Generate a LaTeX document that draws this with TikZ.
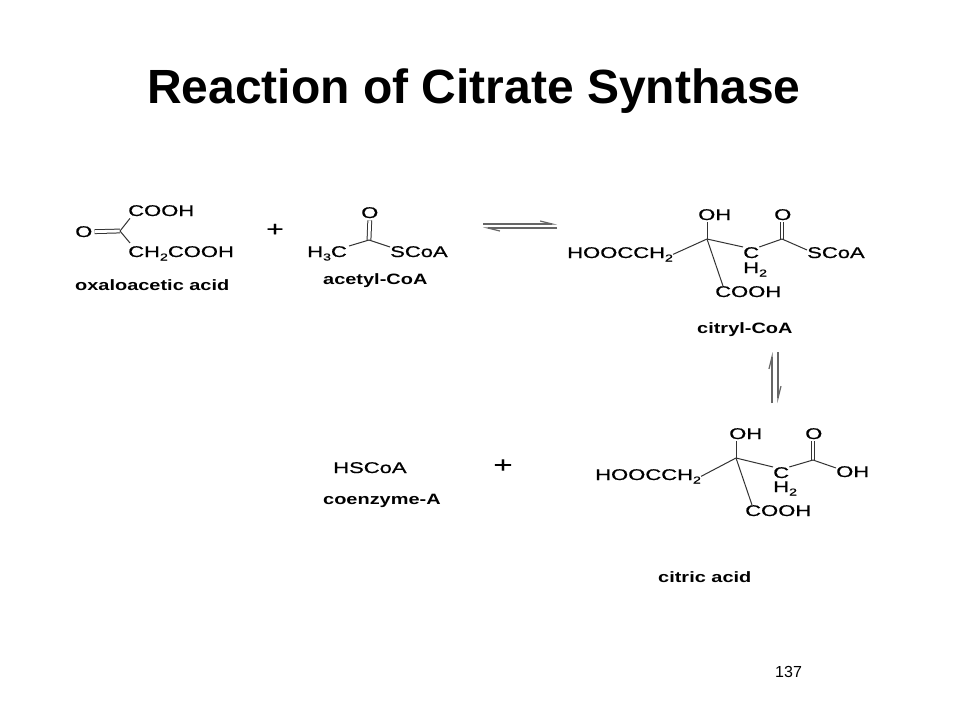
\documentclass[tikz,border=0pt]{standalone}
\usepackage{fontspec}
\setmainfont{Liberation Sans}
\newfontfamily\chemfont[FakeStretch=1.42, FakeBold=0.6]{Liberation Sans}
\newfontfamily\namefont[FakeStretch=1.33]{Liberation Sans}
\usepackage{tikz}
\usetikzlibrary{arrows.meta}
\newcommand{\chsub}[1]{\raisebox{-3.5pt}{\fontsize{10}{10}\selectfont #1}}
\tikzstyle{atom} = [inner sep=0pt, anchor=base west, font=\chemfont\fontsize{15.5}{15.5}\selectfont]
\tikzstyle{molname} = [inner sep=0pt, anchor=base west, font=\namefont\bfseries\fontsize{15}{15}\selectfont]
\tikzstyle{plus} = [inner sep=0pt, font=\chemfont\fontsize{21}{21}\selectfont]
\tikzstyle{bond} = [line width=1pt, black!80]
\tikzstyle{dbond} = [bond, double, double distance=2.8pt]
\tikzstyle{eqarrow} = [line width=1.2pt, black!60, -{Straight Barb[harpoon, length=12pt, width=6pt]}]

\begin{document}
\begin{tikzpicture}[x=1pt, y=-1pt]
	\useasboundingbox[fill=white] (0,0) rectangle (960,720);
	\node[anchor=base west, inner sep=0pt, font=\bfseries\fontsize{48}{48}\selectfont] (title) at (147,103) {Reaction of Citrate Synthase};
	% oxaloacetic acid
	\coordinate (oxC) at (120,231);
	\node[atom] (oxO) at (75,237) {O};
	\node[atom] (oxTop) at (128,216) {COOH};
	\node[atom] (oxBot) at (128,257) {CH\chsub{2}COOH};
	\node[molname] (oxName) at (75,290) {oxaloacetic acid};
	\draw[dbond] ([xshift=2pt]oxO.east) -- (oxC);
	\draw[bond] (oxC) -- ([xshift=2pt,yshift=-2pt]oxTop.south west);
	\draw[bond] (oxC) -- ([xshift=2pt,yshift=3pt]oxBot.north west);
	\node[plus] (plusA) at (275,230) {+};
	% acetyl-CoA
	\coordinate (acC) at (369,240);
	\node[atom] (acO) at (361,218) {O};
	\node[atom] (acMe) at (307,257) {H\chsub{3}C};
	\node[atom] (acS) at (390,257) {SCoA};
	\node[molname] (acName) at (323,284) {acetyl-CoA};
	\draw[dbond] (acC) -- ([yshift=-2pt]acO.south);
	\draw[bond] (acC) -- ([xshift=2pt]acMe.north east);
	\draw[bond] (acC) -- ([yshift=-1pt]acS.north west);
	% first equilibrium
	\coordinate (eqAfrom) at (483,224);
	\coordinate (eqAto) at (557,224);
	\coordinate (eqBfrom) at (557,228);
	\coordinate (eqBto) at (483,228);
	\draw[eqarrow] (eqAfrom) -- (eqAto);
	\draw[eqarrow] (eqBfrom) -- (eqBto);
	% citryl-CoA
	\coordinate (ctC) at (707,239);
	\coordinate (ctCO) at (782,239);
	\node[atom] (ctOH) at (698,220) {OH};
	\node[atom] (ctO) at (774,220) {O};
	\node[atom] (ctLeft) at (567,258) {HOOCCH\chsub{2}};
	\node[atom] (ctCm) at (743,258) {C};
	\node[atom] (ctH) at (743,273) {H\chsub{2}};
	\node[atom] (ctS) at (807,258) {SCoA};
	\node[atom] (ctCOOH) at (715,297) {COOH};
	\node[molname] (ctName) at (697,333) {citryl-CoA};
	\draw[dbond] (ctCO) -- ([yshift=-2pt]ctCO |- ctO.south);
	\draw[bond] (ctC) -- ([yshift=-2pt]ctC |- ctOH.south);
	\draw[bond] (ctC) -- (ctLeft.east);
	\draw[bond] (ctC) -- (ctCm.north west);
	\draw[bond] (ctCm.north east) -- (ctCO);
	\draw[bond] (ctCO) -- ([yshift=-3pt]ctS.north west);
	\draw[bond] (ctC) -- ([xshift=8pt]ctCOOH.north west);
	% second equilibrium
	\coordinate (eqCfrom) at (772,403);
	\coordinate (eqCto) at (772,352);
	\coordinate (eqDfrom) at (778,352);
	\coordinate (eqDto) at (778,403);
	\draw[eqarrow] (eqCfrom) -- (eqCto);
	\draw[eqarrow] (eqDfrom) -- (eqDto);
	% coenzyme-A
	\node[atom] (coa) at (333,473) {HSCoA};
	\node[molname] (coaName) at (323,504) {coenzyme-A};
	\node[plus, font=\chemfont\fontsize{23}{23}\selectfont] (plusB) at (503,466) {+};
	% citric acid
	\coordinate (caC) at (736,458);
	\coordinate (caCO) at (813,460);
	\node[atom] (caOH) at (729,439) {OH};
	\node[atom] (caO) at (805,439) {O};
	\node[atom] (caLeft) at (595,480) {HOOCCH\chsub{2}};
	\node[atom] (caCm) at (773,478) {C};
	\node[atom] (caH) at (773,492) {H\chsub{2}};
	\node[atom] (caOHr) at (836,477) {OH};
	\node[atom] (caCOOH) at (745,516) {COOH};
	\node[molname] (caName) at (658,582) {citric acid};
	\draw[dbond] (caCO) -- ([yshift=-2pt]caCO |- caO.south);
	\draw[bond] (caC) -- ([yshift=-2pt]caC |- caOH.south);
	\draw[bond] (caC) -- (caLeft.east);
	\draw[bond] (caC) -- (caCm.north west);
	\draw[bond] (caCm.north east) -- (caCO);
	\draw[bond] (caCO) -- ([yshift=-2pt]caOHr.north west);
	\draw[bond] (caC) -- ([xshift=7pt]caCOOH.north west);
	% slide number
	\node[anchor=base west, inner sep=0pt, font=\fontsize{16}{16}\selectfont] (pageno) at (775,677) {137};
\end{tikzpicture}
\end{document}
